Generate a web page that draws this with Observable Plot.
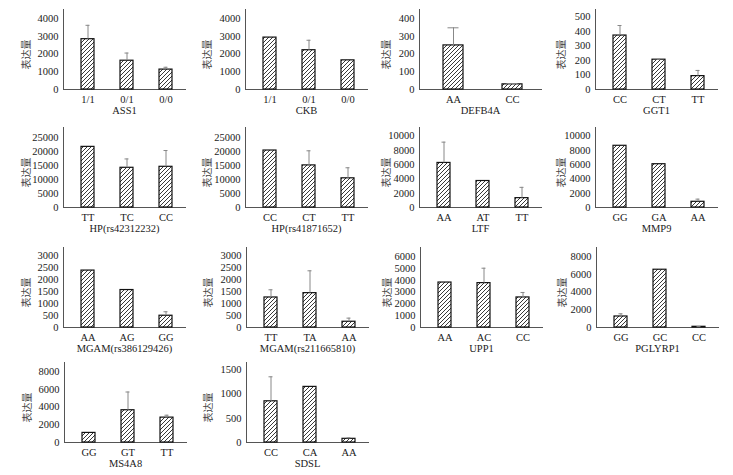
<!DOCTYPE html>
<html><head><meta charset="utf-8">
<script src="https://cdn.jsdelivr.net/npm/d3@7"></script>
<script src="https://cdn.jsdelivr.net/npm/@observablehq/plot@0.6"></script>
<style>
body{margin:0;background:#fff;}
#chart{position:relative;width:733px;height:475px;overflow:hidden;background:#fff;}
#chart svg{position:absolute;overflow:visible;}
</style></head><body><div id="chart"></div>
<script>
const genes = ["ASS1","CKB","DEFB4A","GGT1","HP(rs42312232)","HP(rs41871652)","LTF","MMP9","MGAM(rs386129426)","MGAM(rs211665810)","UPP1","PGLYRP1","MS4A8","SDSL"];
const genotypes = [["1/1","0/1","0/0"],["1/1","0/1","0/0"],["AA","CC"],["CC","CT","TT"],["TT","TC","CC"],["CC","CT","TT"],["AA","AT","TT"],["GG","GA","AA"],["AA","AG","GG"],["TT","TA","AA"],["AA","AC","CC"],["GG","GC","CC"],["GG","GT","TT"],["CC","CA","AA"]];
const means = [[2830,1620,1120],[2920,2210,1640],[248,29],[371,205,92],[21600,14150,14500],[20300,15000,10400],[6240,3710,1310],[8640,6060,800],[2370,1560,490],[1250,1430,240],[3800,3750,2540],[1240,6500,80],[1080,3630,2800],[850,1147,76]];
const errors = [[780,430,130],[0,560,0],[99,4],[69,3,39],[0,3150,5800],[0,5200,3750],[2910,0,1510],[0,0,370],[0,0,165],[320,930,150],[0,1260,420],[300,0,20],[0,2050,270],[505,0,21]];
const yMax = [4500,4500,450,550,28500,28500,11200,11200,3330,3330,6760,9000,9000,1650];
const yTicks = [
  [0,1000,2000,3000,4000],[0,1000,2000,3000,4000],[0,100,200,300,400],[0,100,200,300,400,500],
  [0,5000,10000,15000,20000,25000],[0,5000,10000,15000,20000,25000],[0,2000,4000,6000,8000,10000],[0,2000,4000,6000,8000,10000],
  [0,500,1000,1500,2000,2500,3000],[0,500,1000,1500,2000,2500,3000],[0,1000,2000,3000,4000,5000,6000],[0,2000,4000,6000,8000],
  [0,2000,4000,6000,8000],[0,500,1000,1500]];
const yLabel = "表达量";

const axisXpos = [63,245,419,595, 63,245,419,595, 63,246,420,596, 64,246];
const labelOff = [37,38,33,34, 37,38,33,34, 37,38,33,34, 37,38];
const rowTop = [9,127,247,362];
const ml = 56, mt = 4, innerW = 122, innerH = 80, mr = 6, mb = 32;
const serif = "'Liberation Serif','Times New Roman',serif";
const chart = document.getElementById("chart");

genes.forEach((gene, i) => {
  const row = Math.floor(i / 4);
  const data = genotypes[i].map((g, j) => ({g, m: means[i][j], e: errors[i][j]}));
  const err = data.filter(d => d.e > 0);
  const id = "hatch" + i;
  const svg = Plot.plot({
    width: ml + innerW + mr, height: mt + innerH + mb,
    marginLeft: ml, marginRight: mr, marginTop: mt, marginBottom: mb,
    style: {fontFamily: serif, fontSize: "10.5px", color: "#1a1a1a", background: "transparent", overflow: "visible"},
    x: {domain: genotypes[i], range: [ml + 4, ml + innerW + 1], paddingInner: 2/3, paddingOuter: 1/3},
    y: {domain: [0, yMax[i]]},
    marks: [
      Plot.axisY({ticks: yTicks[i], tickSize: 0, tickPadding: 5, tickFormat: d => String(d), label: null}),
      Plot.axisX({tickSize: 0, tickPadding: 6, label: null}),
      Plot.frame({anchor: "left", stroke: "#555"}),
      Plot.frame({anchor: "bottom", stroke: "#555"}),
      Plot.barY(data, {x: "g", y: "m", fill: `url(#${id})`, stroke: "#111", strokeWidth: 1.2}),
      Plot.ruleX(err, {x: "g", y1: "m", y2: d => d.m + d.e, stroke: "#888"}),
      Plot.tickY(err, {x: "g", y: d => d.m + d.e, stroke: "#888", insetLeft: 4.5, insetRight: 4.5}),
      Plot.text([gene], {frameAnchor: "bottom", dy: 24, fontSize: 10.5, fill: "#1a1a1a"}),
      Plot.text([yLabel], {frameAnchor: "left", textAnchor: "middle", lineAnchor: "middle", dx: -labelOff[i], dy: 5, rotate: -90, fontSize: 10, fill: "#444", fontFamily: "'Noto Sans CJK SC'"})
    ]
  });
  const ns = "http://www.w3.org/2000/svg";
  const defs = document.createElementNS(ns, "defs");
  const pat = document.createElementNS(ns, "pattern");
  pat.setAttribute("id", id);
  pat.setAttribute("patternUnits", "userSpaceOnUse");
  pat.setAttribute("width", "4");
  pat.setAttribute("height", "4");
  const bg = document.createElementNS(ns, "rect");
  bg.setAttribute("width", "4"); bg.setAttribute("height", "4"); bg.setAttribute("fill", "#fff");
  const p = document.createElementNS(ns, "path");
  p.setAttribute("d", "M-1,1L1,-1M0,4L4,0M3,5L5,3");
  p.setAttribute("stroke", "#222");
  p.setAttribute("stroke-width", "0.9");
  pat.appendChild(bg); pat.appendChild(p); defs.appendChild(pat);
  svg.insertBefore(defs, svg.firstChild);
  svg.style.left = (axisXpos[i] - ml) + "px";
  svg.style.top = (rowTop[row] - mt) + "px";
  chart.appendChild(svg);
});
</script></body></html>
